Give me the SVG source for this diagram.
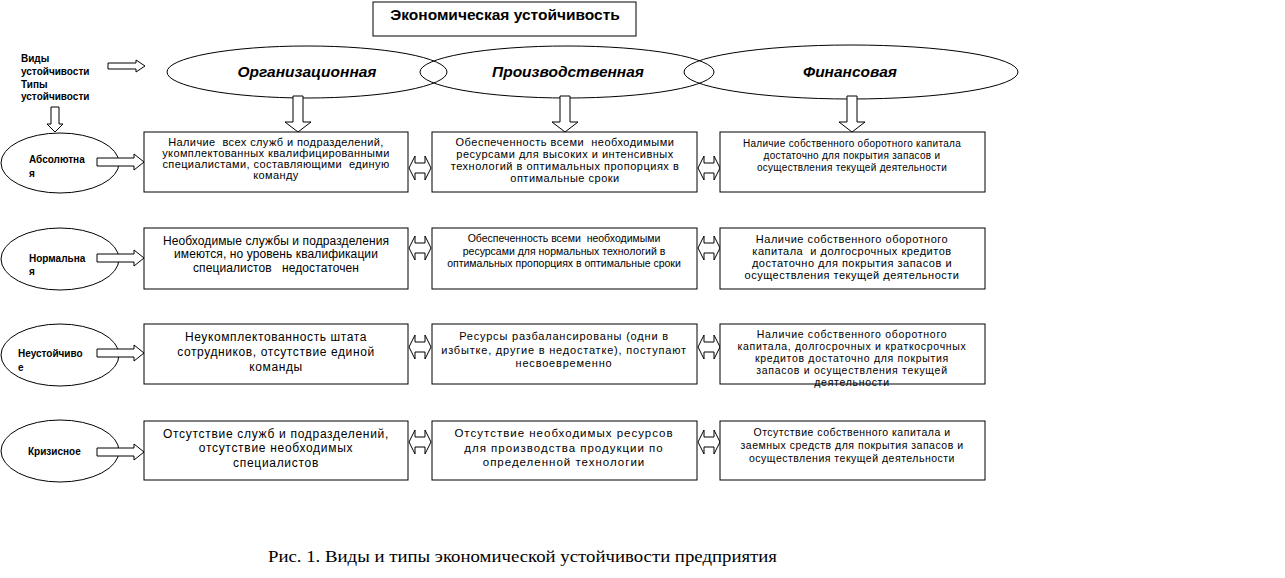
<svg xmlns="http://www.w3.org/2000/svg" width="1285" height="578" viewBox="0 0 1285 578">
<style>
.bx{fill:#fff;stroke:#000;stroke-width:1}
.el{fill:none;stroke:#000;stroke-width:1}
.ar{fill:#fff;stroke:#000;stroke-width:1}
text{font-family:"Liberation Sans",Arial,sans-serif;fill:#000;white-space:pre}
.t{text-anchor:middle}
.lb{font-weight:bold;font-size:10px}
.ei{font-weight:bold;font-style:italic;font-size:15.5px;text-anchor:middle}
.cap{font-family:"Liberation Serif","Times New Roman",serif;font-size:17px}
</style>
<rect width="1285" height="578" fill="#fff"/>
<g id="title"><rect class="bx" x="373" y="2" width="263" height="34"/><text x="505" y="20" class="t" font-weight="bold" font-size="15.5">Экономическая устойчивость</text></g>
<g id="legend"><text class="lb" x="21" y="62">Виды</text><text class="lb" x="21" y="75">устойчивости</text><text class="lb" x="21" y="88">Типы</text><text class="lb" x="21" y="100">устойчивости</text></g>
<g id="vid-org"><ellipse class="el" cx="307" cy="72" rx="140" ry="26"/><text class="ei" x="307" y="77">Организационная</text></g>
<g id="vid-prod"><ellipse class="el" cx="567" cy="72" rx="147" ry="26"/><text class="ei" x="568" y="77">Производственная</text></g>
<g id="vid-fin"><ellipse class="el" cx="851" cy="72" rx="167" ry="27"/><text class="ei" x="850" y="77">Финансовая</text></g>
<g id="tip-abs"><ellipse class="el" cx="60" cy="163" rx="59" ry="30"/><text class="lb" x="29" y="163">Абсолютна</text><text class="lb" x="29" y="177">я</text></g>
<g id="tip-norm"><ellipse class="el" cx="60" cy="259" rx="59" ry="31"/><text class="lb" x="29" y="262">Нормальна</text><text class="lb" x="29" y="275">я</text></g>
<g id="tip-neust"><ellipse class="el" cx="60" cy="355" rx="59" ry="31"/><text class="lb" x="18" y="357">Неустойчиво</text><text class="lb" x="18" y="371">е</text></g>
<g id="tip-kriz"><ellipse class="el" cx="60" cy="451" rx="59" ry="31"/><text class="lb" x="28" y="455">Кризисное</text></g>
<g id="connectors">
<path class="ar" d="M108,63 H136 V60 L145,66 L136,72 V69 H108 Z"/>
<path class="ar" d="M51,107 V124 H47 L55,132 L63,124 H59 V107 Z"/>
<path class="ar" d="M293,96 V122 H285 L298,132 L311,122 H303 V96 Z"/>
<path class="ar" d="M560,96 V122 H552 L565,132 L578,122 H570 V96 Z"/>
<path class="ar" d="M847,96 V122 H839 L852,132 L865,122 H857 V96 Z"/>
<path class="ar" d="M97,158 H134 V154 L144,162 L134,170 V166 H97 Z"/>
<path class="ar" d="M97,254 H134 V250 L144,258 L134,266 V262 H97 Z"/>
<path class="ar" d="M97,349 H134 V345 L144,353 L134,361 V357 H97 Z"/>
<path class="ar" d="M97,448 H134 V444 L144,452 L134,460 V456 H97 Z"/>
<path class="ar" d="M409,168 L415,156 V163 H425 V156 L431,168 L425,180 V173 H415 V180 Z"/>
<path class="ar" d="M698,168 L704,156 V163 H714 V156 L720,168 L714,180 V173 H704 V180 Z"/>
<path class="ar" d="M409,248 L415,236 V243 H425 V236 L431,248 L425,260 V253 H415 V260 Z"/>
<path class="ar" d="M698,248 L704,236 V243 H714 V236 L720,248 L714,260 V253 H704 V260 Z"/>
<path class="ar" d="M409,347 L415,335 V342 H425 V335 L431,347 L425,359 V352 H415 V359 Z"/>
<path class="ar" d="M698,347 L704,335 V342 H714 V335 L720,347 L714,359 V352 H704 V359 Z"/>
<path class="ar" d="M409,442 L415,430 V437 H425 V430 L431,442 L425,454 V447 H415 V454 Z"/>
<path class="ar" d="M698,442 L704,430 V437 H714 V430 L720,442 L714,454 V447 H704 V454 Z"/>
</g>
<g id="b11"><rect class="bx" x="144" y="132" width="264" height="60"/><g class="t" font-size="11" letter-spacing="0.4"><text x="276" y="146">Наличие  всех служб и подразделений,</text><text x="276" y="157">укомплектованных квалифицированными</text><text x="276" y="168">специалистами, составляющими  единую</text><text x="276" y="179">команду</text></g></g>
<g id="b12"><rect class="bx" x="432" y="132" width="265" height="60"/><g class="t" font-size="11" letter-spacing="0.5"><text x="565" y="146">Обеспеченность всеми  необходимыми</text><text x="565" y="158">ресурсами для высоких и интенсивных</text><text x="565" y="170">технологий в оптимальных пропорциях в</text><text x="565" y="182">оптимальные сроки</text></g></g>
<g id="b13"><rect class="bx" x="720" y="132" width="265" height="60"/><g class="t" font-size="10" letter-spacing="0.3"><text x="852" y="147">Наличие собственного оборотного капитала</text><text x="852" y="159">достаточно для покрытия запасов и</text><text x="852" y="171">осуществления текущей деятельности</text></g></g>
<g id="b21"><rect class="bx" x="144" y="228" width="264" height="61"/><g class="t" font-size="12" letter-spacing="0.1"><text x="276" y="245">Необходимые службы и подразделения</text><text x="276" y="258">имеются, но уровень квалификации</text><text x="276" y="272">специалистов   недостаточен</text></g></g>
<g id="b22"><rect class="bx" x="432" y="228" width="265" height="61"/><g class="t" font-size="10.5"><text x="564" y="242">Обеспеченность всеми  необходимыми</text><text x="564" y="255">ресурсами для нормальных технологий в</text><text x="564" y="267">оптимальных пропорциях в оптимальные сроки</text></g></g>
<g id="b23"><rect class="bx" x="720" y="228" width="265" height="61"/><g class="t" font-size="11" letter-spacing="0.5"><text x="852" y="243">Наличие собственного оборотного</text><text x="852" y="255">капитала  и долгосрочных кредитов</text><text x="852" y="267">достаточно для покрытия запасов и</text><text x="852" y="279">осуществления текущей деятельности</text></g></g>
<g id="b31"><rect class="bx" x="144" y="324" width="264" height="60"/><g class="t" font-size="12" letter-spacing="0.6"><text x="276" y="341">Неукомплектованность штата</text><text x="276" y="356">сотрудников, отсутствие единой</text><text x="276" y="371">команды</text></g></g>
<g id="b32"><rect class="bx" x="432" y="324" width="265" height="60"/><g class="t" font-size="11" letter-spacing="0.8"><text x="564" y="340">Ресурсы разбалансированы (одни в</text><text x="564" y="354">избытке, другие в недостатке), поступают</text><text x="564" y="367">несвоевременно</text></g></g>
<g id="b33"><rect class="bx" x="720" y="324" width="265" height="60"/><g class="t" font-size="10.5" letter-spacing="0.7"><text x="852" y="338">Наличие собственного оборотного</text><text x="852" y="350">капитала, долгосрочных и краткосрочных</text><text x="852" y="362">кредитов достаточно для покрытия</text><text x="852" y="374">запасов и осуществления текущей</text><text x="852" y="386">деятельности</text></g></g>
<g id="b41"><rect class="bx" x="144" y="421" width="264" height="59"/><g class="t" font-size="12" letter-spacing="0.7"><text x="276" y="438">Отсутствие служб и подразделений,</text><text x="276" y="452">отсутствие необходимых</text><text x="276" y="467">специалистов</text></g></g>
<g id="b42"><rect class="bx" x="432" y="421" width="265" height="59"/><g class="t" font-size="11.5" letter-spacing="1"><text x="564" y="437">Отсутствие необходимых ресурсов</text><text x="564" y="452">для производства продукции по</text><text x="564" y="466">определенной технологии</text></g></g>
<g id="b43"><rect class="bx" x="720" y="421" width="265" height="59"/><g class="t" font-size="10.5" letter-spacing="0.5"><text x="852" y="436">Отсутствие собственного капитала и</text><text x="852" y="449">заемных средств для покрытия запасов и</text><text x="852" y="462">осуществления текущей деятельности</text></g></g>
<g id="caption"><text class="cap" x="268" y="562" textLength="509" lengthAdjust="spacingAndGlyphs">Рис. 1. Виды и типы экономической устойчивости предприятия</text></g>
</svg>
